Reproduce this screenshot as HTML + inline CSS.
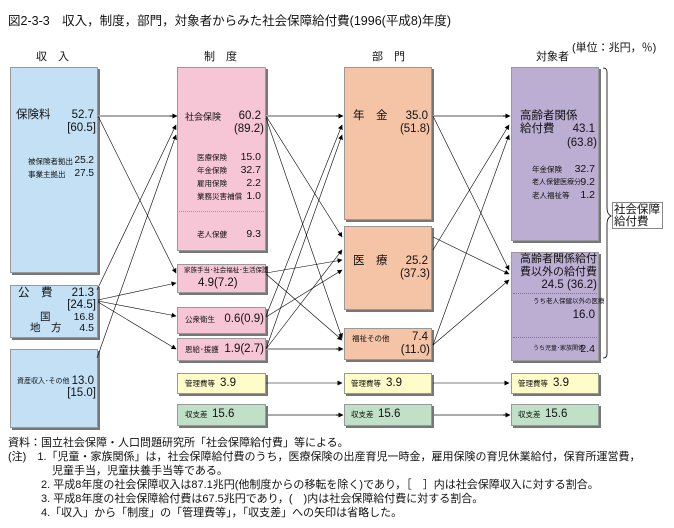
<!DOCTYPE html>
<html><head><meta charset="utf-8"><style>
body{margin:0;width:674px;height:528px;background:#fff;position:relative;overflow:hidden;font-family:"Liberation Sans","Noto Sans CJK JP",sans-serif;color:#111}
.b{position:absolute;border:1px solid #999;box-shadow:2px 2px 0 #777;box-sizing:border-box}
.t{position:absolute;white-space:nowrap;line-height:1}
.r{position:absolute;white-space:nowrap;line-height:1;text-align:right}
.s{font-size:7.5px}
.m{font-size:11.5px}
.blue{background:#c3e0f5}.pink{background:#f6c6d6}.sal{background:#f5c4a7}.pur{background:#bcaed3}.yel{background:#fefcc8}.grn{background:#c0e0c8}
svg{position:absolute;left:0;top:0}
</style></head><body>
<div class="t" style="left:8px;top:15px;font-size:12.5px">図2-3-3　収入，制度，部門，対象者からみた社会保障給付費(1996(平成8)年度)</div>
<div class="t" style="left:36px;top:52px;font-size:11px">収　入</div>
<div class="t" style="left:204px;top:52px;font-size:11px">制　度</div>
<div class="t" style="left:372px;top:52px;font-size:11px">部　門</div>
<div class="t" style="left:536px;top:52px;font-size:11px">対象者</div>
<div class="t" style="left:572px;top:43px;font-size:11px">(単位：兆円，％)</div>

<div class="b blue" style="left:10px;top:67px;width:88px;height:206px"></div>
<div class="b blue" style="left:10px;top:285px;width:88px;height:53px"></div>
<div class="b blue" style="left:10px;top:349px;width:88px;height:79px"></div>
<div class="b pink" style="left:177px;top:67px;width:89px;height:184px"></div>
<div style="position:absolute;left:179px;top:211px;width:85px;border-top:1px dotted #999"></div>
<div class="b pink" style="left:177px;top:264px;width:89px;height:29px"></div>
<div class="b pink" style="left:177px;top:307px;width:89px;height:27px"></div>
<div class="b pink" style="left:177px;top:338px;width:89px;height:23px"></div>
<div class="b yel" style="left:177px;top:373px;width:89px;height:21px"></div>
<div class="b grn" style="left:177px;top:404px;width:89px;height:22px"></div>
<div class="b sal" style="left:344px;top:67px;width:88px;height:153px"></div>
<div class="b sal" style="left:344px;top:226px;width:88px;height:84px"></div>
<div class="b sal" style="left:344px;top:328px;width:88px;height:32px"></div>
<div class="b yel" style="left:344px;top:373px;width:88px;height:21px"></div>
<div class="b grn" style="left:344px;top:404px;width:88px;height:22px"></div>
<div class="b pur" style="left:511px;top:67px;width:88px;height:174px"></div>
<div class="b pur" style="left:511px;top:252px;width:88px;height:109px"></div>
<div style="position:absolute;left:513px;top:293px;width:84px;border-top:1px dotted #777"></div>
<div style="position:absolute;left:513px;top:337px;width:84px;border-top:1px dotted #777"></div>
<div class="b yel" style="left:511px;top:373px;width:88px;height:21px"></div>
<div class="b grn" style="left:511px;top:404px;width:88px;height:22px"></div>
<div style="position:absolute;left:612px;top:202px;width:51px;height:27px;border:1px solid #888;background:#fff;box-sizing:border-box"></div>

<svg width="674" height="528">
<defs><marker id="a" markerUnits="userSpaceOnUse" markerWidth="5" markerHeight="5" refX="4.5" refY="2.5" orient="auto"><path d="M0,0 L5,2.5 L0,5 z" fill="#000"/></marker></defs>
<g stroke="#aaa" stroke-width="2" fill="none">
<line x1="98" y1="116" x2="174" y2="116"/>
<line x1="266" y1="116" x2="340" y2="116"/>
<line x1="433" y1="116" x2="507" y2="116"/>
<line x1="266" y1="349" x2="340" y2="349"/>
<line x1="268" y1="415" x2="340" y2="415"/>
<line x1="434" y1="415" x2="507" y2="415"/>
</g>
<g stroke="#000" stroke-width="0.6" fill="none" marker-end="url(#a)">
<line x1="170" y1="116" x2="177" y2="116"/>
<line x1="336" y1="116" x2="343" y2="116"/>
<line x1="503" y1="116" x2="510" y2="116"/>
<line x1="336" y1="349" x2="343" y2="349"/>
<line x1="336" y1="415" x2="343" y2="415"/>
<line x1="503" y1="415" x2="510" y2="415"/>
<line x1="98" y1="116" x2="176" y2="273"/>
<line x1="97" y1="290" x2="176" y2="125"/>
<line x1="97" y1="358" x2="176" y2="135"/>
<line x1="98" y1="300" x2="176" y2="283"/>
<line x1="98" y1="301" x2="176" y2="316"/>
<line x1="98" y1="302" x2="176" y2="349"/>
<line x1="266" y1="116" x2="342" y2="237"/>
<line x1="266" y1="118" x2="342" y2="338"/>
<line x1="266" y1="273" x2="342" y2="260"/>
<line x1="266" y1="274" x2="342" y2="340"/>
<line x1="266" y1="316" x2="342" y2="125"/>
<line x1="266" y1="317" x2="342" y2="270"/>
<line x1="266" y1="349" x2="342" y2="135"/>
<line x1="266" y1="349" x2="342" y2="250"/>
<line x1="266" y1="383" x2="342" y2="383"/>
<line x1="433" y1="383" x2="509" y2="383"/>
<line x1="433" y1="116" x2="509" y2="270"/>
<line x1="433" y1="237" x2="509" y2="274"/>
<line x1="433" y1="250" x2="509" y2="125"/>
<line x1="433" y1="345" x2="509" y2="280"/>
<line x1="433" y1="345" x2="509" y2="135"/>
</g>
<path d="M603,68 q4,0 4,4 v136 q0,6 4,8 q-4,2 -4,8 v130 q0,4 -4,4" stroke="#000" stroke-width="0.8" fill="none"/>
</svg>

<div class="t m" style="left:16px;top:110px">保険料</div>
<div class="r m" style="right:580px;top:110px">52.7</div>
<div class="r m" style="right:578px;top:123px">[60.5]</div>
<div class="t s" style="left:28px;top:158px">被保険者拠出</div><div class="r" style="right:580px;top:156px;font-size:10px">25.2</div>
<div class="t s" style="left:28px;top:171px">事業主拠出</div><div class="r" style="right:580px;top:169px;font-size:10px">27.5</div>
<div class="t m" style="left:18px;top:288px">公　費</div><div class="r m" style="right:580px;top:288px">21.3</div>
<div class="r m" style="right:578px;top:300px">[24.5]</div>
<div class="t" style="left:40px;top:312px;font-size:10.5px">国</div><div class="r" style="right:580px;top:312px;font-size:10.5px">16.8</div>
<div class="t" style="left:30px;top:323px;font-size:10.5px">地　方</div><div class="r" style="right:580px;top:323px;font-size:10.5px">4.5</div>
<div class="t" style="left:17px;top:378px;font-size:7px">資産収入･その他</div><div class="r m" style="right:580px;top:376px">13.0</div>
<div class="r m" style="right:578px;top:388px">[15.0]</div>

<div class="t" style="left:185px;top:113px;font-size:9px">社会保険</div><div class="r m" style="right:413px;top:111px">60.2</div>
<div class="r m" style="right:410px;top:124px">(89.2)</div>
<div class="t s" style="left:197px;top:154px">医療保険</div><div class="r" style="right:413px;top:152px;font-size:10.5px">15.0</div>
<div class="t s" style="left:197px;top:167px">年金保険</div><div class="r" style="right:413px;top:165px;font-size:10.5px">32.7</div>
<div class="t s" style="left:197px;top:180px">雇用保険</div><div class="r" style="right:413px;top:178px;font-size:10.5px">2.2</div>
<div class="t s" style="left:197px;top:193px">業務災害補償</div><div class="r" style="right:413px;top:191px;font-size:10.5px">1.0</div>
<div class="t s" style="left:197px;top:231px">老人保健</div><div class="r" style="right:413px;top:229px;font-size:10.5px">9.3</div>
<div class="t" style="left:184px;top:268px;font-size:6.5px">家族手当･社会福祉･生活保護</div>
<div class="t m" style="left:198px;top:278px">4.9(7.2)</div>
<div class="t s" style="left:185px;top:316px">公衆衛生</div><div class="r m" style="right:410px;top:314px">0.6(0.9)</div>
<div class="t s" style="left:185px;top:346px">恩給･援護</div><div class="r m" style="right:410px;top:344px">1.9(2.7)</div>
<div class="t s" style="left:185px;top:380px">管理費等</div><div class="t m" style="left:220px;top:378px">3.9</div>
<div class="t s" style="left:185px;top:411px">収支差</div><div class="t m" style="left:212px;top:409px">15.6</div>

<div class="t m" style="left:353px;top:111px">年　金</div><div class="r m" style="right:246px;top:111px">35.0</div>
<div class="r m" style="right:244px;top:124px">(51.8)</div>
<div class="t m" style="left:353px;top:256px">医　療</div><div class="r m" style="right:246px;top:256px">25.2</div>
<div class="r m" style="right:244px;top:269px">(37.3)</div>
<div class="t s" style="left:352px;top:335px">福祉その他</div><div class="r m" style="right:246px;top:332px">7.4</div>
<div class="r m" style="right:244px;top:345px">(11.0)</div>
<div class="t s" style="left:351px;top:380px">管理費等</div><div class="t m" style="left:386px;top:378px">3.9</div>
<div class="t s" style="left:351px;top:411px">収支差</div><div class="t m" style="left:378px;top:409px">15.6</div>

<div class="t m" style="left:520px;top:111px">高齢者関係</div>
<div class="t m" style="left:520px;top:124px">給付費</div><div class="r m" style="right:79px;top:124px">43.1</div>
<div class="r m" style="right:77px;top:138px">(63.8)</div>
<div class="t s" style="left:532px;top:166px">年金保険</div><div class="r" style="right:79px;top:164px;font-size:10.5px">32.7</div>
<div class="t" style="left:532px;top:179px;font-size:7px">老人保健医療分</div><div class="r" style="right:79px;top:177px;font-size:10.5px">9.2</div>
<div class="t s" style="left:532px;top:192px">老人福祉等</div><div class="r" style="right:79px;top:190px;font-size:10.5px">1.2</div>
<div class="t" style="left:520px;top:254px;font-size:11px">高齢者関係給付</div>
<div class="t" style="left:520px;top:267px;font-size:11px">費以外の給付費</div>
<div class="r m" style="right:77px;top:280px">24.5 (36.2)</div>
<div class="t" style="left:533px;top:299px;font-size:6.5px">うち老人保健以外の医療</div>
<div class="r m" style="right:79px;top:310px">16.0</div>
<div class="t" style="left:533px;top:346px;font-size:6px">うち児童･家族関係</div><div class="r" style="right:79px;top:344px;font-size:10.5px">2.4</div>
<div class="t s" style="left:518px;top:380px">管理費等</div><div class="t m" style="left:553px;top:378px">3.9</div>
<div class="t s" style="left:518px;top:411px">収支差</div><div class="t m" style="left:545px;top:409px">15.6</div>
<div class="t" style="left:614px;top:204px;line-height:12px;font-size:11.5px">社会保障<br>給付費</div>

<div class="t" style="left:8px;top:436px;font-size:11px;line-height:14px">資料：国立社会保障・人口問題研究所「社会保障給付費」等による。<br>
(注)　1.「児童・家族関係」は，社会保障給付費のうち，医療保険の出産育児一時金，雇用保険の育児休業給付，保育所運営費，<br>
　　　　児童手当，児童扶養手当等である。<br>
　　　2. 平成8年度の社会保障収入は87.1兆円(他制度からの移転を除く)であり，［　］内は社会保障収入に対する割合。<br>
　　　3. 平成8年度の社会保障給付費は67.5兆円であり，(　)内は社会保障給付費に対する割合。<br>
　　　4.「収入」から「制度」の「管理費等」，「収支差」への矢印は省略した。</div>
</body></html>
